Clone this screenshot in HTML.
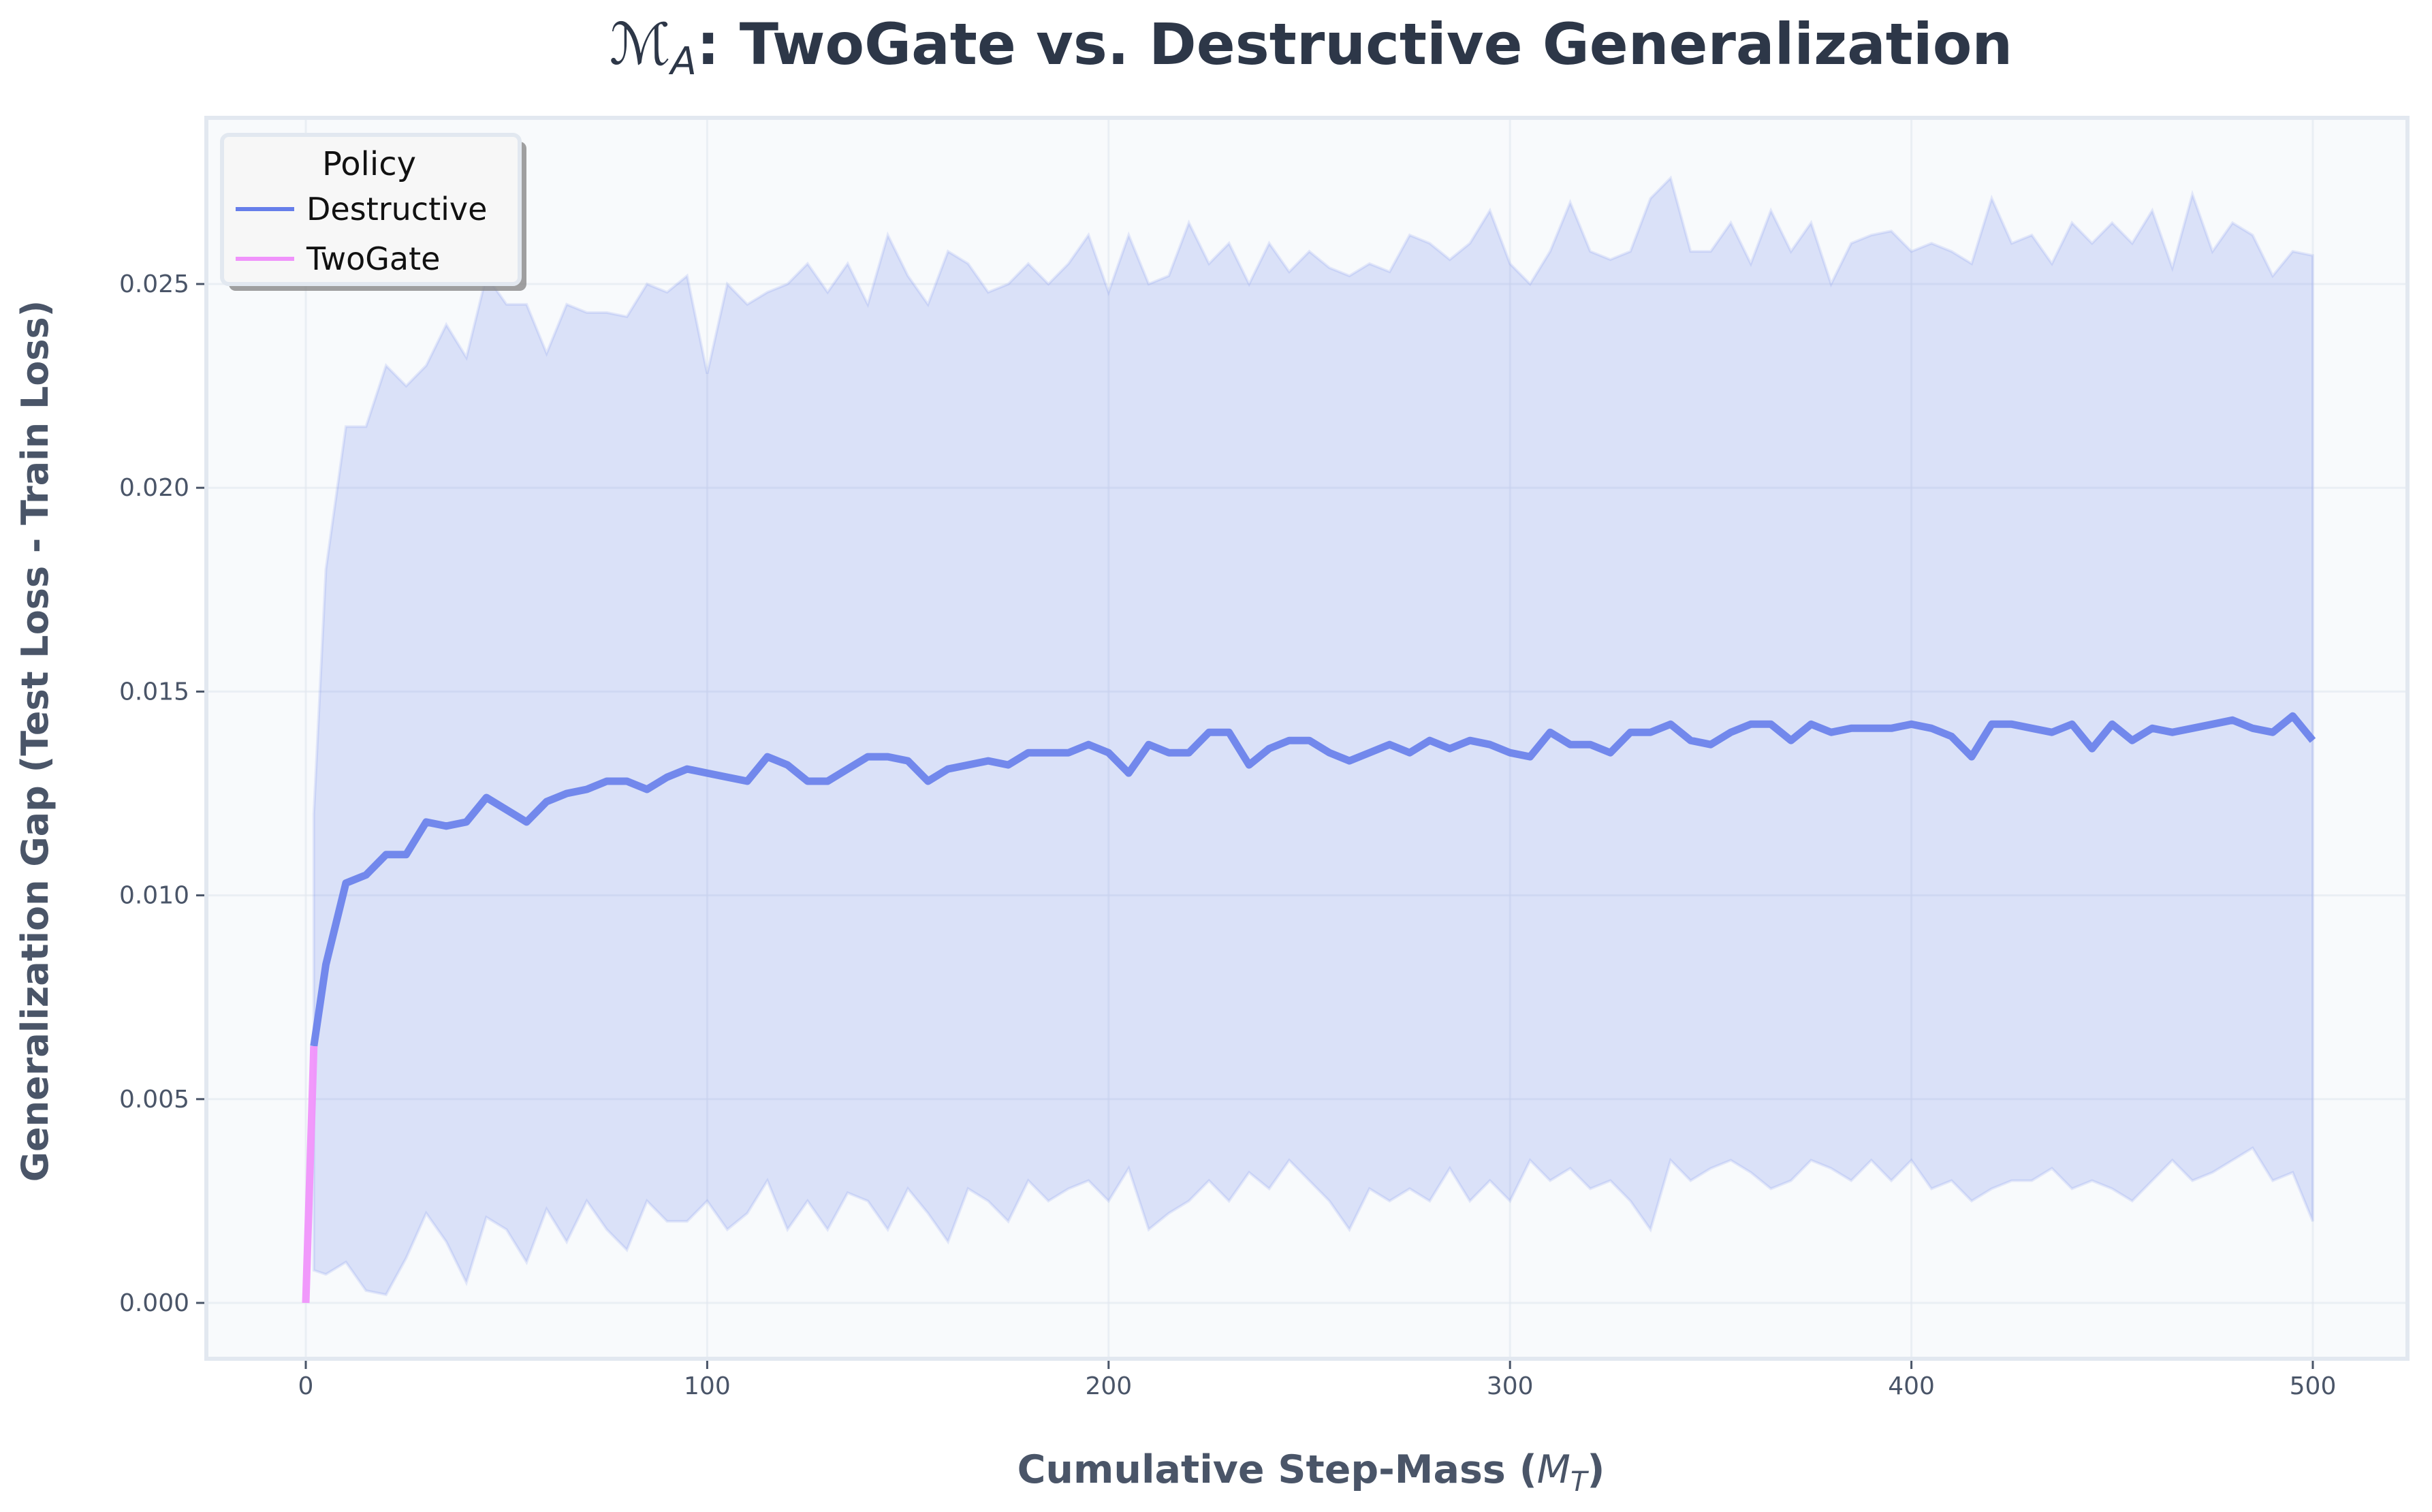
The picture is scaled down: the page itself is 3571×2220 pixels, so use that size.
<!DOCTYPE html>
<html><head><meta charset="utf-8">
<style>
html,body{margin:0;padding:0;background:#fff;}
svg{display:block;font-family:"DejaVu Sans","Liberation Sans",sans-serif;}
</style></head>
<body>
<svg id="chart" width="3571" height="2220" viewBox="0 0 3571 2220">
  <text x="1925" y="94" text-anchor="middle" font-size="84" font-weight="bold" fill="#2d3748"><tspan font-style="italic" font-weight="normal">ℳ</tspan><tspan font-size="56" dy="15" font-style="italic" font-weight="normal">A</tspan><tspan dy="-15">: TwoGate vs. Destructive Generalization</tspan></text>
  <rect x="303" y="173" width="3232" height="1822" fill="#f8fafc" stroke="#e2e8f0" stroke-width="6"/>
  <g id="grid"></g>
  <g id="marks"></g>
  <g id="axes"></g>
  <text transform="translate(70,1088) rotate(-90)" text-anchor="middle" font-size="54" font-weight="bold" fill="#4a5568">Generalization Gap (Test Loss - Train Loss)</text>
  <text x="1925" y="2177" text-anchor="middle" font-size="57" font-weight="bold" fill="#4a5568">Cumulative Step-Mass (<tspan font-style="italic" font-weight="normal">M</tspan><tspan font-size="40" dy="12" font-style="italic" font-weight="normal">T</tspan><tspan dy="-12">)</tspan></text>
  <g>
    <rect x="336" y="208" width="437" height="219" rx="10" fill="#888" opacity="0.8"/>
    <rect x="326" y="198" width="437" height="219" rx="10" fill="#f7f7f7" stroke="#e2e8f0" stroke-width="6"/>
    <text x="542" y="257" text-anchor="middle" font-size="48" fill="#111">Policy</text>
    <line x1="346" y1="307" x2="432" y2="307" stroke="#667eea" stroke-width="6"/>
    <text x="450" y="323" font-size="46" fill="#111">Destructive</text>
    <line x1="346" y1="380" x2="432" y2="380" stroke="#f093fb" stroke-width="6"/>
    <text x="450" y="396" font-size="46" fill="#111">TwoGate</text>
  </g>
</svg>
<script>
const xValues = [2,5,10,15,20,25,30,35,40,45,50,55,60,65,70,75,80,85,90,95,100,105,110,115,120,125,130,135,140,145,150,155,160,165,170,175,180,185,190,195,200,205,210,215,220,225,230,235,240,245,250,255,260,265,270,275,280,285,290,295,300,305,310,315,320,325,330,335,340,345,350,355,360,365,370,375,380,385,390,395,400,405,410,415,420,425,430,435,440,445,450,455,460,465,470,475,480,485,490,495,500];
const destructiveMean = [.0063,.0083,.0103,.0105,.011,.011,.0118,.0117,.0118,.0124,.0121,.0118,.0123,.0125,.0126,.0128,.0128,.0126,.0129,.0131,.013,.0129,.0128,.0134,.0132,.0128,.0128,.0131,.0134,.0134,.0133,.0128,.0131,.0132,.0133,.0132,.0135,.0135,.0135,.0137,.0135,.013,.0137,.0135,.0135,.014,.014,.0132,.0136,.0138,.0138,.0135,.0133,.0135,.0137,.0135,.0138,.0136,.0138,.0137,.0135,.0134,.014,.0137,.0137,.0135,.014,.014,.0142,.0138,.0137,.014,.0142,.0142,.0138,.0142,.014,.0141,.0141,.0141,.0142,.0141,.0139,.0134,.0142,.0142,.0141,.014,.0142,.0136,.0142,.0138,.0141,.014,.0141,.0142,.0143,.0141,.014,.0144,.0138];
const destructiveUpper = [.012,.018,.0215,.0215,.023,.0225,.023,.024,.0232,.0252,.0245,.0245,.0233,.0245,.0243,.0243,.0242,.025,.0248,.0252,.0228,.025,.0245,.0248,.025,.0255,.0248,.0255,.0245,.0262,.0252,.0245,.0258,.0255,.0248,.025,.0255,.025,.0255,.0262,.0248,.0262,.025,.0252,.0265,.0255,.026,.025,.026,.0253,.0258,.0254,.0252,.0255,.0253,.0262,.026,.0256,.026,.0268,.0255,.025,.0258,.027,.0258,.0256,.0258,.0271,.0276,.0258,.0258,.0265,.0255,.0268,.0258,.0265,.025,.026,.0262,.0263,.0258,.026,.0258,.0255,.0271,.026,.0262,.0255,.0265,.026,.0265,.026,.0268,.0254,.0272,.0258,.0265,.0262,.0252,.0258,.0257];
const destructiveLower = [.0008,.0007,.001,.0003,.0002,.0011,.0022,.0015,.0005,.0021,.0018,.001,.0023,.0015,.0025,.0018,.0013,.0025,.002,.002,.0025,.0018,.0022,.003,.0018,.0025,.0018,.0027,.0025,.0018,.0028,.0022,.0015,.0028,.0025,.002,.003,.0025,.0028,.003,.0025,.0033,.0018,.0022,.0025,.003,.0025,.0032,.0028,.0035,.003,.0025,.0018,.0028,.0025,.0028,.0025,.0033,.0025,.003,.0025,.0035,.003,.0033,.0028,.003,.0025,.0018,.0035,.003,.0033,.0035,.0032,.0028,.003,.0035,.0033,.003,.0035,.003,.0035,.0028,.003,.0025,.0028,.003,.003,.0033,.0028,.003,.0028,.0025,.003,.0035,.003,.0032,.0035,.0038,.003,.0032,.002];
const twoGateX = [0,2];
const twoGateMean = [0,.0063];
const xTicks = [0,100,200,300,400,500];
const yTicks = [0,0.005,0.01,0.015,0.02,0.025];
const yTickLabels = ["0.000","0.005","0.010","0.015","0.020","0.025"];

const NS = "http://www.w3.org/2000/svg";
const X0 = 449, X1 = 3396, Y0 = 1913, Y1 = 417;
const xs = v => X0 + (v - 0) / 500 * (X1 - X0);
const ys = v => Y0 - v / 0.025 * (Y0 - Y1);
function mk(tag, attrs, parent) {
  const e = document.createElementNS(NS, tag);
  for (const k in attrs) e.setAttribute(k, attrs[k]);
  parent.appendChild(e);
  return e;
}
const grid = document.getElementById('grid');
const marks = document.getElementById('marks');
const axes = document.getElementById('axes');

xTicks.forEach(t => {
  const g = mk('line', {x1: xs(t), x2: xs(t), y1: 176, y2: 1992, stroke: '#e2e8f0', 'stroke-width': 3, opacity: 0.6}, grid);
  
  
  const tk = mk('line', {x1: xs(t), x2: xs(t), y1: 1998, y2: 2010, stroke: '#4a5568', 'stroke-width': 3}, axes);
  
  
  const lb = mk('text', {x: xs(t), y: 2047, 'text-anchor': 'middle', 'font-size': 36, fill: '#4a5568'}, axes);
  lb.textContent = String(t);
  
  
});
yTicks.forEach((t, i) => {
  const g = mk('line', {x1: 306, x2: 3532, y1: ys(t), y2: ys(t), stroke: '#e2e8f0', 'stroke-width': 3, opacity: 0.6}, grid);
  
  
  const tk = mk('line', {x1: 288, x2: 300, y1: ys(t), y2: ys(t), stroke: '#4a5568', 'stroke-width': 3}, axes);
  
  
  const lb = mk('text', {x: 278, y: ys(t) + 12, 'text-anchor': 'end', 'font-size': 36, fill: '#4a5568'}, axes);
  lb.textContent = yTickLabels[i];
  
  
});

let d = '';
xValues.forEach((x, i) => { d += (i ? 'L' : 'M') + xs(x).toFixed(1) + ',' + ys(destructiveUpper[i]).toFixed(1); });
for (let i = xValues.length - 1; i >= 0; i--) d += 'L' + xs(xValues[i]).toFixed(1) + ',' + ys(destructiveLower[i]).toFixed(1);
d += 'Z';
const band = mk('path', {d: d, fill: '#667eea', 'fill-opacity': 0.2, stroke: '#667eea', 'stroke-opacity': 0.15, 'stroke-width': 4}, marks);



const meanPts = xValues.map((x, i) => xs(x).toFixed(1) + ',' + ys(destructiveMean[i]).toFixed(1)).join(' ');
const meanLine = mk('polyline', {points: meanPts, fill: 'none', stroke: '#667eea', 'stroke-opacity': 0.9, 'stroke-width': 11, 'stroke-linejoin': 'round'}, marks);



const tgPts = twoGateX.map((x, i) => xs(x).toFixed(1) + ',' + ys(twoGateMean[i]).toFixed(1)).join(' ');
const tgLine = mk('polyline', {points: tgPts, fill: 'none', stroke: '#f093fb', 'stroke-opacity': 0.95, 'stroke-width': 11}, marks);


</script>
</body></html>
